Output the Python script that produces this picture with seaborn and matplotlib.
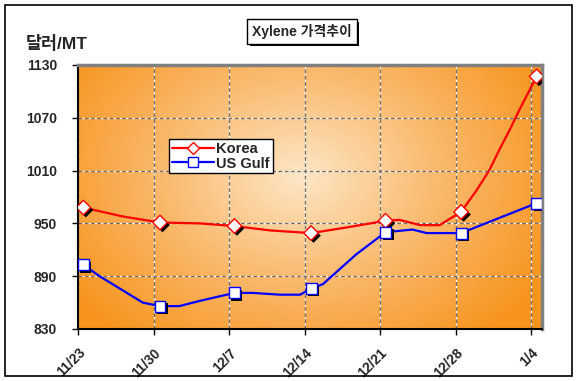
import numpy as np
import pandas as pd
import matplotlib
matplotlib.use("Agg")
import matplotlib.pyplot as plt
import matplotlib.patheffects as pe
from matplotlib.colors import LinearSegmentedColormap
from matplotlib.lines import Line2D
from matplotlib.patches import Rectangle
import seaborn as sns

sns.set_style("white")
plt.rcParams['font.family'] = ['Liberation Sans', 'Noto Sans CJK KR', 'DejaVu Sans']

# data (x = days since 11/23)
week_labels = ['11/23', '11/30', '12/7', '12/14', '12/21', '12/28', '1/4']
week_days = [0, 7, 14, 21, 28, 35, 42]
marker_days = [0.5, 7.6, 14.5, 21.6, 28.5, 35.5, 42.5]
korea_weekly = [968, 951, 947, 939, 953, 963, 1117]
usgulf_weekly = [903, 856, 871, 876, 940, 939, 973]

korea_days = [0.5, 4.1, 7.6, 11.3, 14.5, 17.8, 21.6, 25.2, 28.5, 29.8, 31.7, 33.5,
              35.5, 36.9, 38.1, 39.1, 40.0, 40.9, 42.5]
korea_line = [968, 958, 951, 950, 947, 942, 939, 946, 953, 954, 948, 948,
              963, 987, 1010, 1035, 1056, 1079, 1117]
usgulf_days = [0.5, 2.0, 4.8, 6.0, 7.6, 9.4, 11.3, 14.5, 16.2, 18.7, 20.6, 21.6,
               22.7, 25.8, 28.5, 31.0, 32.3, 35.5, 42.5]
usgulf_line = [903, 890, 869, 860, 856, 856, 862, 871, 871, 869, 869, 876,
               881, 915, 940, 943, 939, 939, 973]

fig = plt.figure(figsize=(5.76, 3.81), dpi=100)
ax = fig.add_axes([0.1354, 0.1365, 0.8056, 0.6929])

# radial orange background
gx, gy = np.meshgrid(np.linspace(0, 1, 300), np.linspace(0, 1, 200))
r = np.sqrt(((gx - 0.48) / 0.6) ** 2 + ((gy - 0.58) / 0.8) ** 2)
r = np.clip(r, 0, 1)
cmap = LinearSegmentedColormap.from_list('bg', ['#fde6c6', '#fab96c', '#f7941d'])
ax.imshow(r, cmap=cmap, extent=(0, 1, 0, 1), transform=ax.transAxes,
          aspect='auto', origin='lower', zorder=0, interpolation='bilinear')

kline = pd.DataFrame({'day': korea_days, 'price': korea_line})
uline = pd.DataFrame({'day': usgulf_days, 'price': usgulf_line})
kmark = pd.DataFrame({'day': marker_days, 'price': korea_weekly})
umark = pd.DataFrame({'day': marker_days, 'price': usgulf_weekly})

sns.lineplot(data=kline, x='day', y='price', color='#ff0000', lw=1.6, ax=ax, zorder=3)
sns.lineplot(data=uline, x='day', y='price', color='#0000ff', lw=1.6, ax=ax, zorder=3)

shadow = [pe.SimplePatchShadow(offset=(1.8, -1.8), shadow_rgbFace='black', alpha=1), pe.Normal()]
sns.scatterplot(data=kmark, x='day', y='price', marker='D', s=55, color='white',
                edgecolor='#ff0000', linewidth=1.0, ax=ax, zorder=4)
ax.collections[-1].set_path_effects(shadow)
sns.scatterplot(data=umark, x='day', y='price', marker='s', s=62, color='white',
                edgecolor='#0000ff', linewidth=1.0, ax=ax, zorder=4)
ax.collections[-1].set_path_effects(shadow)

ax.set_xlim(0, 43)
ax.set_ylim(830, 1130)
ax.set_yticks(range(830, 1131, 60))
ax.set_xticks(week_days)
ax.set_xticklabels(week_labels, rotation=45, ha='right', rotation_mode='anchor')
ax.set_xlabel('')
ax.set_ylabel('')
ax.tick_params(axis='both', direction='out', length=4, width=1, color='black',
               labelsize=10, bottom=True, left=True)
ax.tick_params(axis='y', pad=11)
ax.tick_params(axis='x', pad=8)
for lab in ax.get_xticklabels() + ax.get_yticklabels():
    lab.set_fontweight('bold')

ax.grid(True, color='#707070', linestyle=(0, (3, 2)), linewidth=0.9, gapcolor='white', zorder=1)
ax.set_axisbelow(True)
for s in ['top', 'right']:
    ax.spines[s].set_color('#808080')
    ax.spines[s].set_linewidth(2.5)
for s in ['left', 'bottom']:
    ax.spines[s].set_color('black')
    ax.spines[s].set_linewidth(1.5)

handles = [Line2D([], [], color='#ff0000', lw=1.6, marker='D', markersize=6.5,
                  markerfacecolor='white', markeredgecolor='#ff0000'),
           Line2D([], [], color='#0000ff', lw=1.6, marker='s', markersize=7,
                  markerfacecolor='white', markeredgecolor='#0000ff')]
leg = ax.legend(handles, ['Korea', 'US Gulf'], loc='upper left',
                bbox_to_anchor=(0.196, 0.72), fancybox=False, framealpha=1,
                edgecolor='black', prop={'weight': 'bold', 'size': 10.5},
                handlelength=2.9, handletextpad=0.15, borderpad=0.2,
                labelspacing=0.05, borderaxespad=0)
leg.get_frame().set_linewidth(1.0)

title = fig.text(0.524, 0.918, 'Xylene 가격추이', ha='center', va='center',
                 fontsize=10, fontweight='bold',
                 bbox=dict(boxstyle='square,pad=0.35', facecolor='white',
                           edgecolor='black', linewidth=1))
title.get_bbox_patch().set_path_effects(
    [pe.SimplePatchShadow(offset=(2, -2), shadow_rgbFace='black', alpha=1), pe.Normal()])

fig.text(0.045, 0.885, '달러/MT', ha='left', va='center', fontsize=12.5, fontweight='bold')

fig.patches.append(Rectangle((0.008, 0.013), 0.985, 0.975, transform=fig.transFigure,
                             fill=False, edgecolor='black', linewidth=1.2))

fig.savefig('out.png', dpi=100)
